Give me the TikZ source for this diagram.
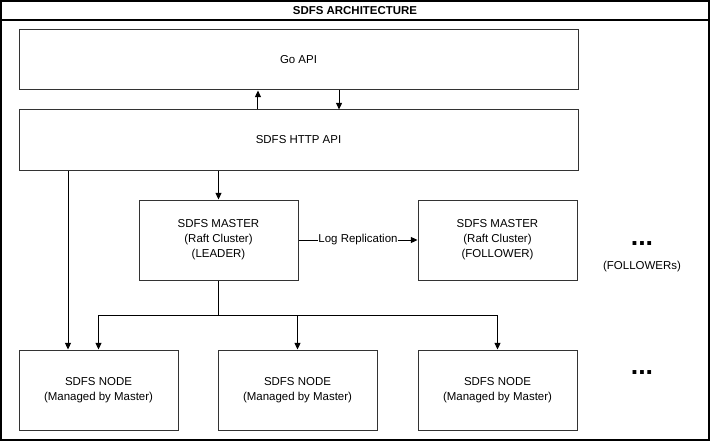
\documentclass[tikz,border=0pt]{standalone}
\usepackage{fontspec}
\setmainfont{Liberation Sans}
\usetikzlibrary{calc,arrows.meta}
\tikzset{
  frame/.style={draw=black, line width=0.9pt},
  wide/.style={draw=black!80, line width=0.75pt, minimum width=419.25pt, minimum height=45pt, font=\fontsize{8.6}{11.2}\selectfont},
  box/.style={draw=black!80, line width=0.75pt, minimum width=119.25pt, minimum height=60pt, align=center, font=\fontsize{8.6}{11.2}\selectfont},
  label/.style={font=\fontsize{8.6}{11.2}\selectfont, inner sep=0.5pt},
  dots/.style={font=\fontsize{20}{20}\selectfont\bfseries, inner sep=0pt, anchor=base},
  arrow/.style={-{Triangle[length=5pt,width=4.5pt]}, draw=black, line width=0.75pt},
  wire/.style={draw=black, line width=0.75pt}
}
\begin{document}
\begin{tikzpicture}[x=0.75pt, y=-0.75pt]
  \useasboundingbox (0,0) rectangle (712,442);
  % Outer frame and title bar
  \draw[frame] (1,1) rectangle (709,440);
  \draw[frame] (1,20) -- (709,20);
  \node[font=\fontsize{8.6}{11.2}\selectfont\bfseries] (title) at (355,10.5) {SDFS ARCHITECTURE};

  % API layers
  \node[wide] (goapi) at (298.5,60) {Go API};
  \node[wide] (http) at (298.5,140) {SDFS HTTP API};
  \draw[arrow] ([xshift=-30.4pt]http.north) -- ([xshift=-30.4pt]goapi.south);
  \draw[arrow] ([xshift=30.4pt]goapi.south) -- ([xshift=30.4pt]http.north);

  % Raft masters
  \node[box] (leader) at (218.5,240) {SDFS MASTER\\(Raft Cluster)\\(LEADER)};
  \node[box] (follower) at (497.5,240) {SDFS MASTER\\(Raft Cluster)\\(FOLLOWER)};
  \draw[arrow] (leader.north |- http.south) -- (leader.north);
  \draw[arrow] (leader) -- node[label, fill=white]{Log Replication} (follower);
  \node[dots] (moremasters) at (642,245) {...};
  \node[label] (followers) at (642,267) {(FOLLOWERs)};

  % Storage nodes
  \node[box] (nodea) at (98.5,390) {SDFS NODE\\(Managed by Master)};
  \node[box] (nodeb) at (297.5,390) {SDFS NODE\\(Managed by Master)};
  \node[box] (nodec) at (497.5,390) {SDFS NODE\\(Managed by Master)};
  \node[dots] (morenodes) at (642,374) {...};
  \draw[arrow] (http.south -| 68,0) -- (nodea.north -| 68,0);
  \coordinate (bus) at (218.5,315);
  \draw[wire] (leader.south) -- (bus);
  \draw[wire] (bus -| nodea) -- (bus -| nodec);
  \draw[arrow] (bus -| nodea) -- (nodea.north);
  \draw[arrow] (bus -| nodeb) -- (nodeb.north);
  \draw[arrow] (bus -| nodec) -- (nodec.north);
\end{tikzpicture}
\end{document}
